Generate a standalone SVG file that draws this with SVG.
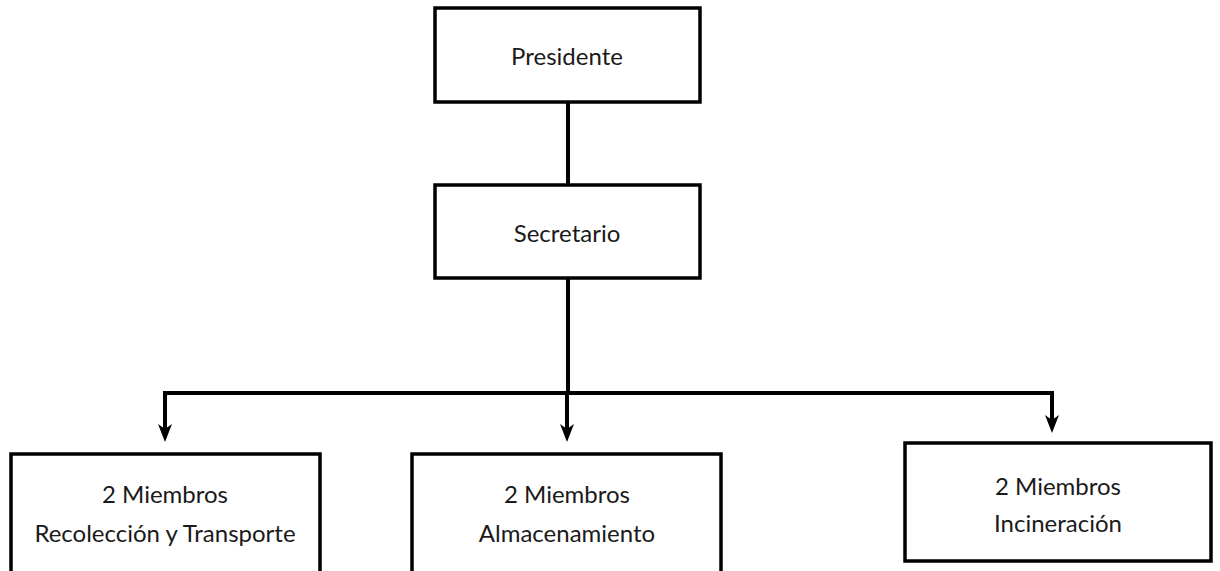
<svg xmlns="http://www.w3.org/2000/svg" width="1220" height="571" viewBox="0 0 1220 571">
<style>
.box{fill:#fff;stroke:#000;stroke-width:3.5}
.lbl{font-family:"Lato","Noto Sans",sans-serif;font-size:24px;fill:#1a1a1a;text-anchor:middle}
.con{fill:none;stroke:#000;stroke-width:4}
</style>
<defs>
<marker id="ah" markerUnits="userSpaceOnUse" markerWidth="18" markerHeight="16" refX="8" refY="8" orient="auto" viewBox="0 0 18 16">
<path d="M0,1 L18,8 L0,15 L5,8 Z" fill="#000"/>
</marker>
</defs>
<rect width="1220" height="571" fill="#fff"/>
<g id="connectors">
<line class="con" x1="568" y1="102" x2="568" y2="184"/>
<line class="con" x1="568" y1="278" x2="568" y2="393"/>
<path class="con" d="M165,420 V393 H1052 V415"/>
<line class="con" x1="165" y1="400" x2="165" y2="432" marker-end="url(#ah)"/>
<line class="con" x1="567" y1="393" x2="567" y2="432" marker-end="url(#ah)"/>
<line class="con" x1="1052" y1="400" x2="1052" y2="423" marker-end="url(#ah)"/>
</g>
<g id="presidente">
<rect class="box" x="435" y="8" width="265" height="94"/>
<text class="lbl" x="567" y="65">Presidente</text>
</g>
<g id="secretario">
<rect class="box" x="435" y="185" width="265" height="93"/>
<text class="lbl" x="567" y="242">Secretario</text>
</g>
<g id="recoleccion">
<rect class="box" x="11" y="454" width="309" height="130"/>
<text class="lbl" x="165" y="503">2 Miembros</text>
<text class="lbl" x="165" y="542">Recolección y Transporte</text>
</g>
<g id="almacenamiento">
<rect class="box" x="412" y="454" width="309" height="130"/>
<text class="lbl" x="567" y="503">2 Miembros</text>
<text class="lbl" x="567" y="542">Almacenamiento</text>
</g>
<g id="incineracion">
<rect class="box" x="905" y="443" width="306" height="118"/>
<text class="lbl" x="1058" y="495">2 Miembros</text>
<text class="lbl" x="1058" y="532">Incineración</text>
</g>
</svg>
